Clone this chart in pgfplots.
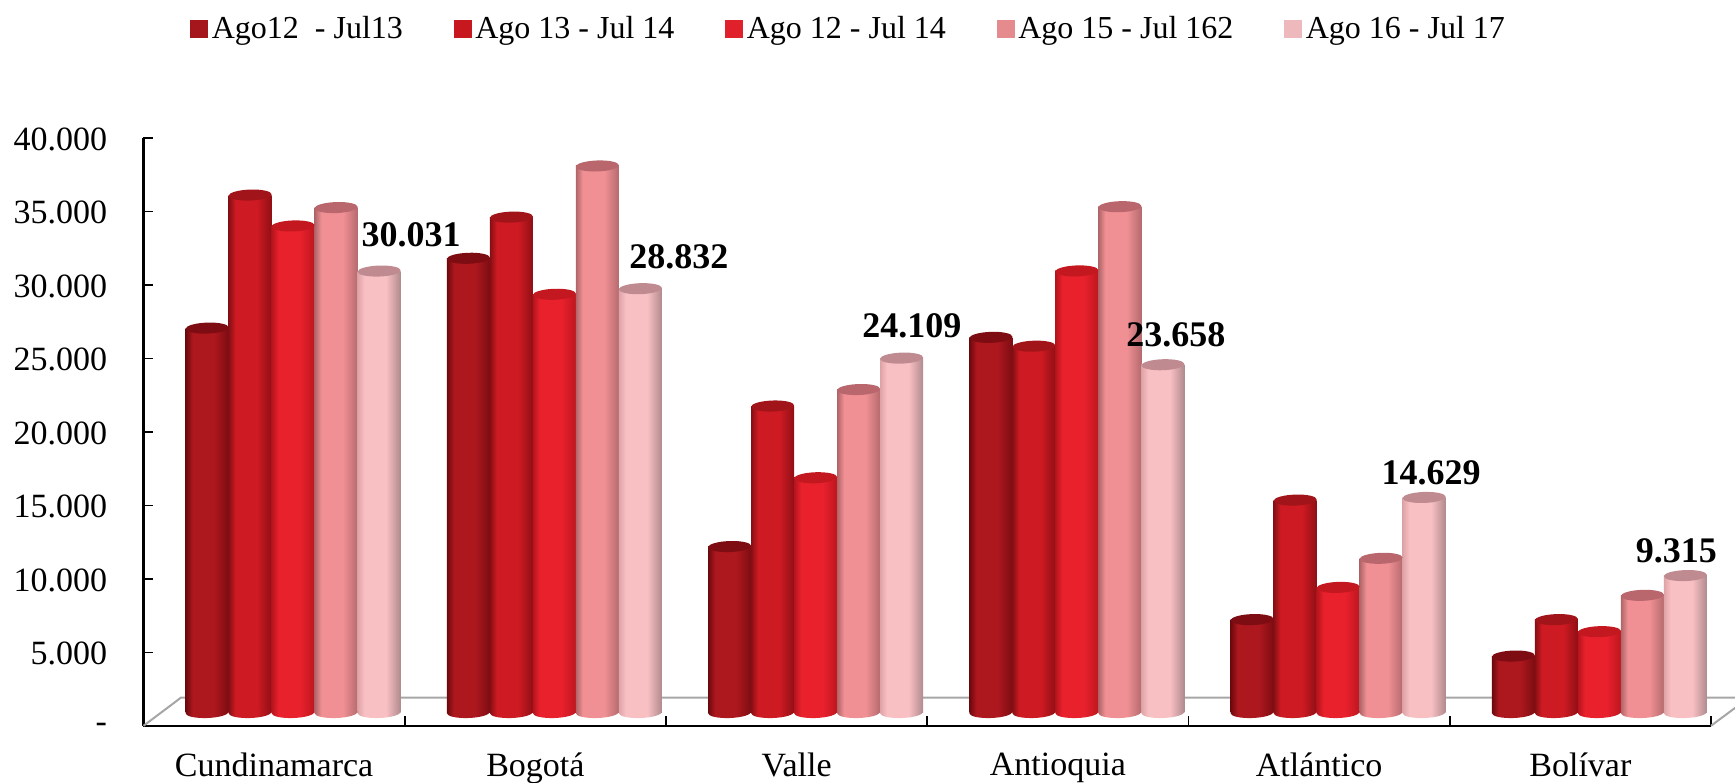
\documentclass[border=0pt]{standalone}
\usepackage{fontspec}
\setmainfont{Liberation Serif}
\usepackage{pgfplots}
\usepackage{pgfplotstable}
\pgfplotsset{compat=1.18}
\definecolor{aD}{HTML}{6B090D}\definecolor{aM}{HTML}{AD171E}\definecolor{aR}{HTML}{7C0D12}\definecolor{aT}{HTML}{7D0D12}\definecolor{aL}{HTML}{A5151C}
\definecolor{bD}{HTML}{850F14}\definecolor{bM}{HTML}{CE1A22}\definecolor{bR}{HTML}{900F15}\definecolor{bT}{HTML}{A0141A}\definecolor{bL}{HTML}{C8181F}
\definecolor{cD}{HTML}{B5141C}\definecolor{cM}{HTML}{E8212D}\definecolor{cR}{HTML}{BE161F}\definecolor{cT}{HTML}{C41820}\definecolor{cL}{HTML}{E0202A}
\definecolor{dD}{HTML}{B06568}\definecolor{dM}{HTML}{F09094}\definecolor{dR}{HTML}{B56A6E}\definecolor{dT}{HTML}{B9666C}\definecolor{dL}{HTML}{E58A8D}
\definecolor{eD}{HTML}{DDA3A6}\definecolor{eM}{HTML}{F9C0C4}\definecolor{eR}{HTML}{B08A8D}\definecolor{eT}{HTML}{BF8B90}\definecolor{eL}{HTML}{EEB9BC}
\newcommand\mkcyl[1]{%
  \pgfdeclarehorizontalshading{cyl#1}{100bp}{color(0bp)=(#1D);color(25bp)=(#1D);color(33bp)=(#1M);color(58bp)=(#1M);color(75bp)=(#1R);color(100bp)=(#1R)}%
  \pgfdeclareplotmark{top#1}{\pgfpathellipse{\pgfpointorigin}{\pgfqpoint{10.75pt}{0.38pt}}{\pgfqpoint{-0.1pt}{2.75pt}}\pgfusepathqfill}%
  \pgfdeclareplotmark{bot#1}{\pgfpathellipse{\pgfpointorigin}{\pgfqpoint{10.75pt}{0.38pt}}{\pgfqpoint{-0.1pt}{2.75pt}}\pgfshadepath{cyl#1}{0}\pgfusepath{discard}}%
}
\mkcyl{a}\mkcyl{b}\mkcyl{c}\mkcyl{d}\mkcyl{e}
\pgfplotstableread{
x   base  a     b     c     d     e
0.5 0     26150 35200 33100 34350 30031
1.5 0     30900 33700 28450 37180 28832
2.5 0     11290 20850 15970 21970 24109
3.5 0     25520 24920 30040 34410 23658
4.5 0     6320  14450 8510  10490 14629
5.5 0     3840  6320  5500  7970  9315
}\data
\newcommand\onebar[3]{%
  \addplot[ybar,bar width=21.5pt,bar shift=#2pt,xshift=9.5pt,yshift=6.65pt,draw=none,shade,shading=cyl#1,forget plot,restrict x to domain=#3] table[x=x,y=#1]{\data};
}
\newcommand\cyl[2]{%
  \addplot[only marks,mark=bot#1,xshift=#2pt+9.5pt,yshift=6.65pt,forget plot] table[x=x,y=base]{\data};
  \onebar{#1}{#2}{0.4:0.6}\onebar{#1}{#2}{1.4:1.6}\onebar{#1}{#2}{2.4:2.6}\onebar{#1}{#2}{3.4:3.6}\onebar{#1}{#2}{4.4:4.6}\onebar{#1}{#2}{5.4:5.6}
  \addplot[only marks,mark=top#1,mark options={fill=#1T,draw=none},xshift=#2pt+9.5pt,yshift=6.65pt,forget plot] table[x=x,y=#1]{\data};
}
\begin{document}
\begin{tikzpicture}
\useasboundingbox (-71.75pt,-28.1pt) rectangle (795.75pt,362.9pt);
\begin{axis}[
  at={(0pt,0pt)},anchor=south west,scale only axis,
  width=783.75pt,height=294pt,
  xmin=0,xmax=6,ymin=0,ymax=40000,
  clip=false,scaled y ticks=false,
  axis x line=bottom,axis y line=left,
  axis line style={-,black,line width=1.1pt},
  xtick={0.5,1.5,2.5,3.5,4.5,5.5},
  xticklabels={Cundinamarca,Bogotá,Valle,Antioquia,Atlántico,Bolívar},
  minor xtick={1,2,3,4,5,6},
  major x tick style={draw=none},
  minor tick length=5pt,
  tick align=inside,
  tick style={black,line width=0.8pt},
  ytick={0,5000,10000,15000,20000,25000,30000,35000,40000},
  yticklabels={-\hspace{7.5pt},5.000,10.000,15.000,20.000,25.000,30.000,35.000,40.000},
  major tick length=5pt,
  ticklabel style={font=\fontsize{17}{20}\selectfont,text=black},
  yticklabel style={xshift=-14.7pt,yshift=-0.8pt},
  xticklabel style={yshift=-10pt},
  legend columns=-1,
  legend style={at={(axis description cs:0.0297,1.214)},anchor=north west,draw=none,fill=none,font=\fontsize{16}{19}\selectfont,/tikz/every even column/.style={column sep=23.3pt},inner sep=0pt,outer sep=0pt},
  legend image code/.code={\fill[#1] (0pt,-4.2pt) rectangle (8.5pt,4.2pt);},
]
\addlegendimage{aL}\addlegendentry{Ago12\ \ - Jul13}
\addlegendimage{bL}\addlegendentry{Ago 13 - Jul 14}
\addlegendimage{cL}\addlegendentry{Ago 12 - Jul 14}
\addlegendimage{dL}\addlegendentry{Ago 15 - Jul 162}
\addlegendimage{eL}\addlegendentry{Ago 16 - Jul 17}
\addplot[color=black!35,line width=1pt,forget plot] coordinates {(0,0) (0.1436,1918) (6.093,1918)};
\addplot[color=black!35,line width=1pt,forget plot] coordinates {(6,0) (6.093,1230)};
\cyl{a}{-43}\cyl{b}{-21.5}\cyl{c}{0}\cyl{d}{21.5}\cyl{e}{43}
\tikzset{lab/.style={font=\bfseries\fontsize{18}{20}\selectfont,inner sep=0pt}}
\node[lab] at (axis cs:0.5,30031) [xshift=68.5pt,yshift=25pt] {30.031};
\node[lab] at (axis cs:1.5,28832) [xshift=71.7pt,yshift=22.4pt] {28.832};
\node[lab] at (axis cs:2.5,24109) [xshift=57.6pt,yshift=23pt] {24.109};
\node[lab] at (axis cs:3.5,23658) [xshift=59pt,yshift=21.5pt] {23.658};
\node[lab] at (axis cs:4.5,14629) [xshift=56pt,yshift=19pt] {14.629};
\node[lab] at (axis cs:5.5,9315) [xshift=48pt,yshift=19pt] {9.315};
\end{axis}
\end{tikzpicture}
\end{document}
